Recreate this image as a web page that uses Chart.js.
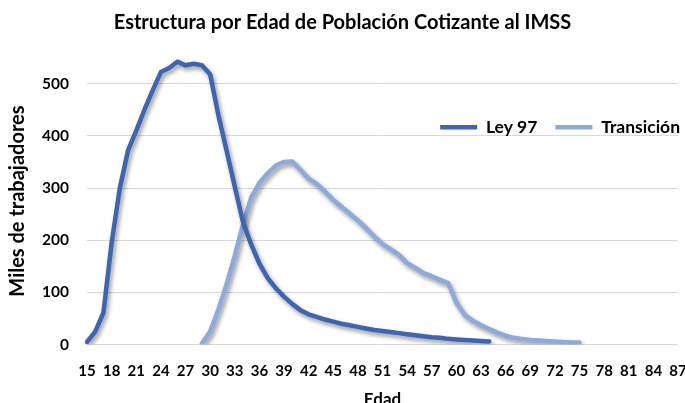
<!DOCTYPE html>
<html>
<head>
<meta charset="utf-8">
<script src="https://cdn.jsdelivr.net/npm/chart.js@4"></script>
<style>
html, body { margin: 0; padding: 0; background: #fff; overflow: hidden; }
#wrap { width: 685px; height: 410px; }
</style>
</head>
<body>
<div id="wrap"><canvas id="edadChart"></canvas></div>
<script>
// Edades (categorias del eje x)
var edades = ['15','16','17','18','19','20','21','22','23','24','25','26','27','28','29','30',
  '31','32','33','34','35','36','37','38','39','40','41','42','43','44','45','46','47','48','49','50',
  '51','52','53','54','55','56','57','58','59','60','61','62','63','64','65','66','67','68','69','70',
  '71','72','73','74','75','76','77','78','79','80','81','82','83','84','85','86','87'];

// Miles de trabajadores, Ley 97 (edades 15 a 64)
var ley97 = [5, 25, 61, 195, 300, 372, 410, 450, 487, 522, 530, 542, 535, 538, 535, 518,
  440, 372, 303, 235, 192, 155, 128, 108, 92, 78, 66, 58, 53, 48, 44, 40, 37, 34, 31, 28,
  26, 24, 22, 20, 18, 16, 14, 13, 11, 10, 9, 8, 7, 6,
  null, null, null, null, null, null, null, null, null, null, null, null,
  null, null, null, null, null, null, null, null, null, null, null];

// Miles de trabajadores, Transicion (edades 29 a 75)
var transicion = [null, null, null, null, null, null, null, null, null, null, null, null, null, null,
  2, 25, 67, 115, 170, 230, 282, 310, 328, 343, 350, 351, 335, 318, 308, 293, 277, 264, 251, 238,
  223, 207, 193, 183, 172, 156, 147, 137, 131, 124, 118, 80, 57, 46, 37, 30, 23, 17, 13, 11,
  9, 8, 7, 6, 5, 4, 4,
  null, null, null, null, null, null, null, null, null, null, null, null];

var fuente = 'Lato, "Open Sans", sans-serif';

// sombra gris bajo las lineas
var lineShadow = {
  id: 'lineShadow',
  beforeDatasetDraw: function(chart) {
    var c = chart.ctx;
    c.save();
    c.shadowColor = 'rgba(0, 0, 0, 0.4)';
    c.shadowBlur = 4;
    c.shadowOffsetX = 2;
    c.shadowOffsetY = 3;
  },
  afterDatasetDraw: function(chart) {
    chart.ctx.restore();
  }
};

// la leyenda va dentro del area del grafico, encima de la linea de 400
var legendShift = {
  id: 'legendShift',
  beforeDraw: function(chart) {
    var lg = chart.legend;
    var h = lg.height;
    lg.top = chart.chartArea.top + 43;
    lg.bottom = lg.top + h;
    lg.right = chart.width + 13;
  }
};

var ctx = document.getElementById('edadChart').getContext('2d');

var edadChart = new Chart(ctx, {
  type: 'line',
  data: {
    labels: edades,
    datasets: [{
      label: 'Ley 97',
      data: ley97,
      borderColor: '#3F65B0',
      backgroundColor: '#3F65B0',
      borderWidth: 4.5,
      borderCapStyle: 'round',
      borderJoinStyle: 'round',
      pointRadius: 0,
      tension: 0
    }, {
      label: 'Transición',
      data: transicion,
      borderColor: '#8EA9DB',
      backgroundColor: '#8EA9DB',
      borderWidth: 4.5,
      borderCapStyle: 'round',
      borderJoinStyle: 'round',
      pointRadius: 0,
      tension: 0
    }]
  },
  options: {
    responsive: true,
    maintainAspectRatio: false,
    animation: false,
    layout: { padding: { left: 0, right: 0, top: 0, bottom: 0 } },
    plugins: {
      title: {
        display: true,
        text: 'Estructura por Edad de Población Cotizante al IMSS',
        color: '#000',
        font: { family: fuente, size: 20, weight: 'bold' },
        padding: { top: 11, bottom: -23 }
      },
      legend: {
        position: 'top',
        align: 'end',
        labels: {
          usePointStyle: true,
          pointStyle: 'line',
          pointStyleWidth: 37,
          color: '#000',
          font: { family: fuente, size: 17.5, weight: 'bold' },
          padding: 18
        }
      },
      tooltip: { enabled: false }
    },
    scales: {
      x: {
        offset: false,
        grid: { display: false },
        border: { display: false },
        ticks: {
          autoSkip: false,
          maxRotation: 0,
          color: '#000',
          font: { family: fuente, size: 15, weight: 'bold' },
          padding: 10,
          callback: function(value, index) {
            return index % 3 === 0 ? this.getLabelForValue(value) : '';
          }
        },
        title: {
          display: true,
          text: 'Edad',
          color: '#000',
          font: { family: fuente, size: 17, weight: 'bold' },
          padding: { top: -1, bottom: 0 }
        },
        afterFit: function(scale) {
          scale.paddingRight = 7;
        }
      },
      y: {
        min: 0,
        max: 550,
        grid: { color: '#D9D9D9', lineWidth: 1, drawTicks: false },
        border: { display: false },
        ticks: {
          stepSize: 100,
          color: '#000',
          font: { family: fuente, size: 15.5, weight: 'bold' },
          padding: 18
        },
        title: {
          display: true,
          text: 'Miles de trabajadores',
          color: '#000',
          font: { family: fuente, size: 20, weight: 'bold' },
          padding: { top: 6, bottom: 4 }
        },
        afterBuildTicks: function(scale) {
          scale.ticks = scale.ticks.filter(function(t) { return t.value <= 500; });
        },
        afterFit: function(scale) {
          scale.width = 87;
        }
      }
    }
  },
  plugins: [lineShadow, legendShift]
});
</script>
</body>
</html>
